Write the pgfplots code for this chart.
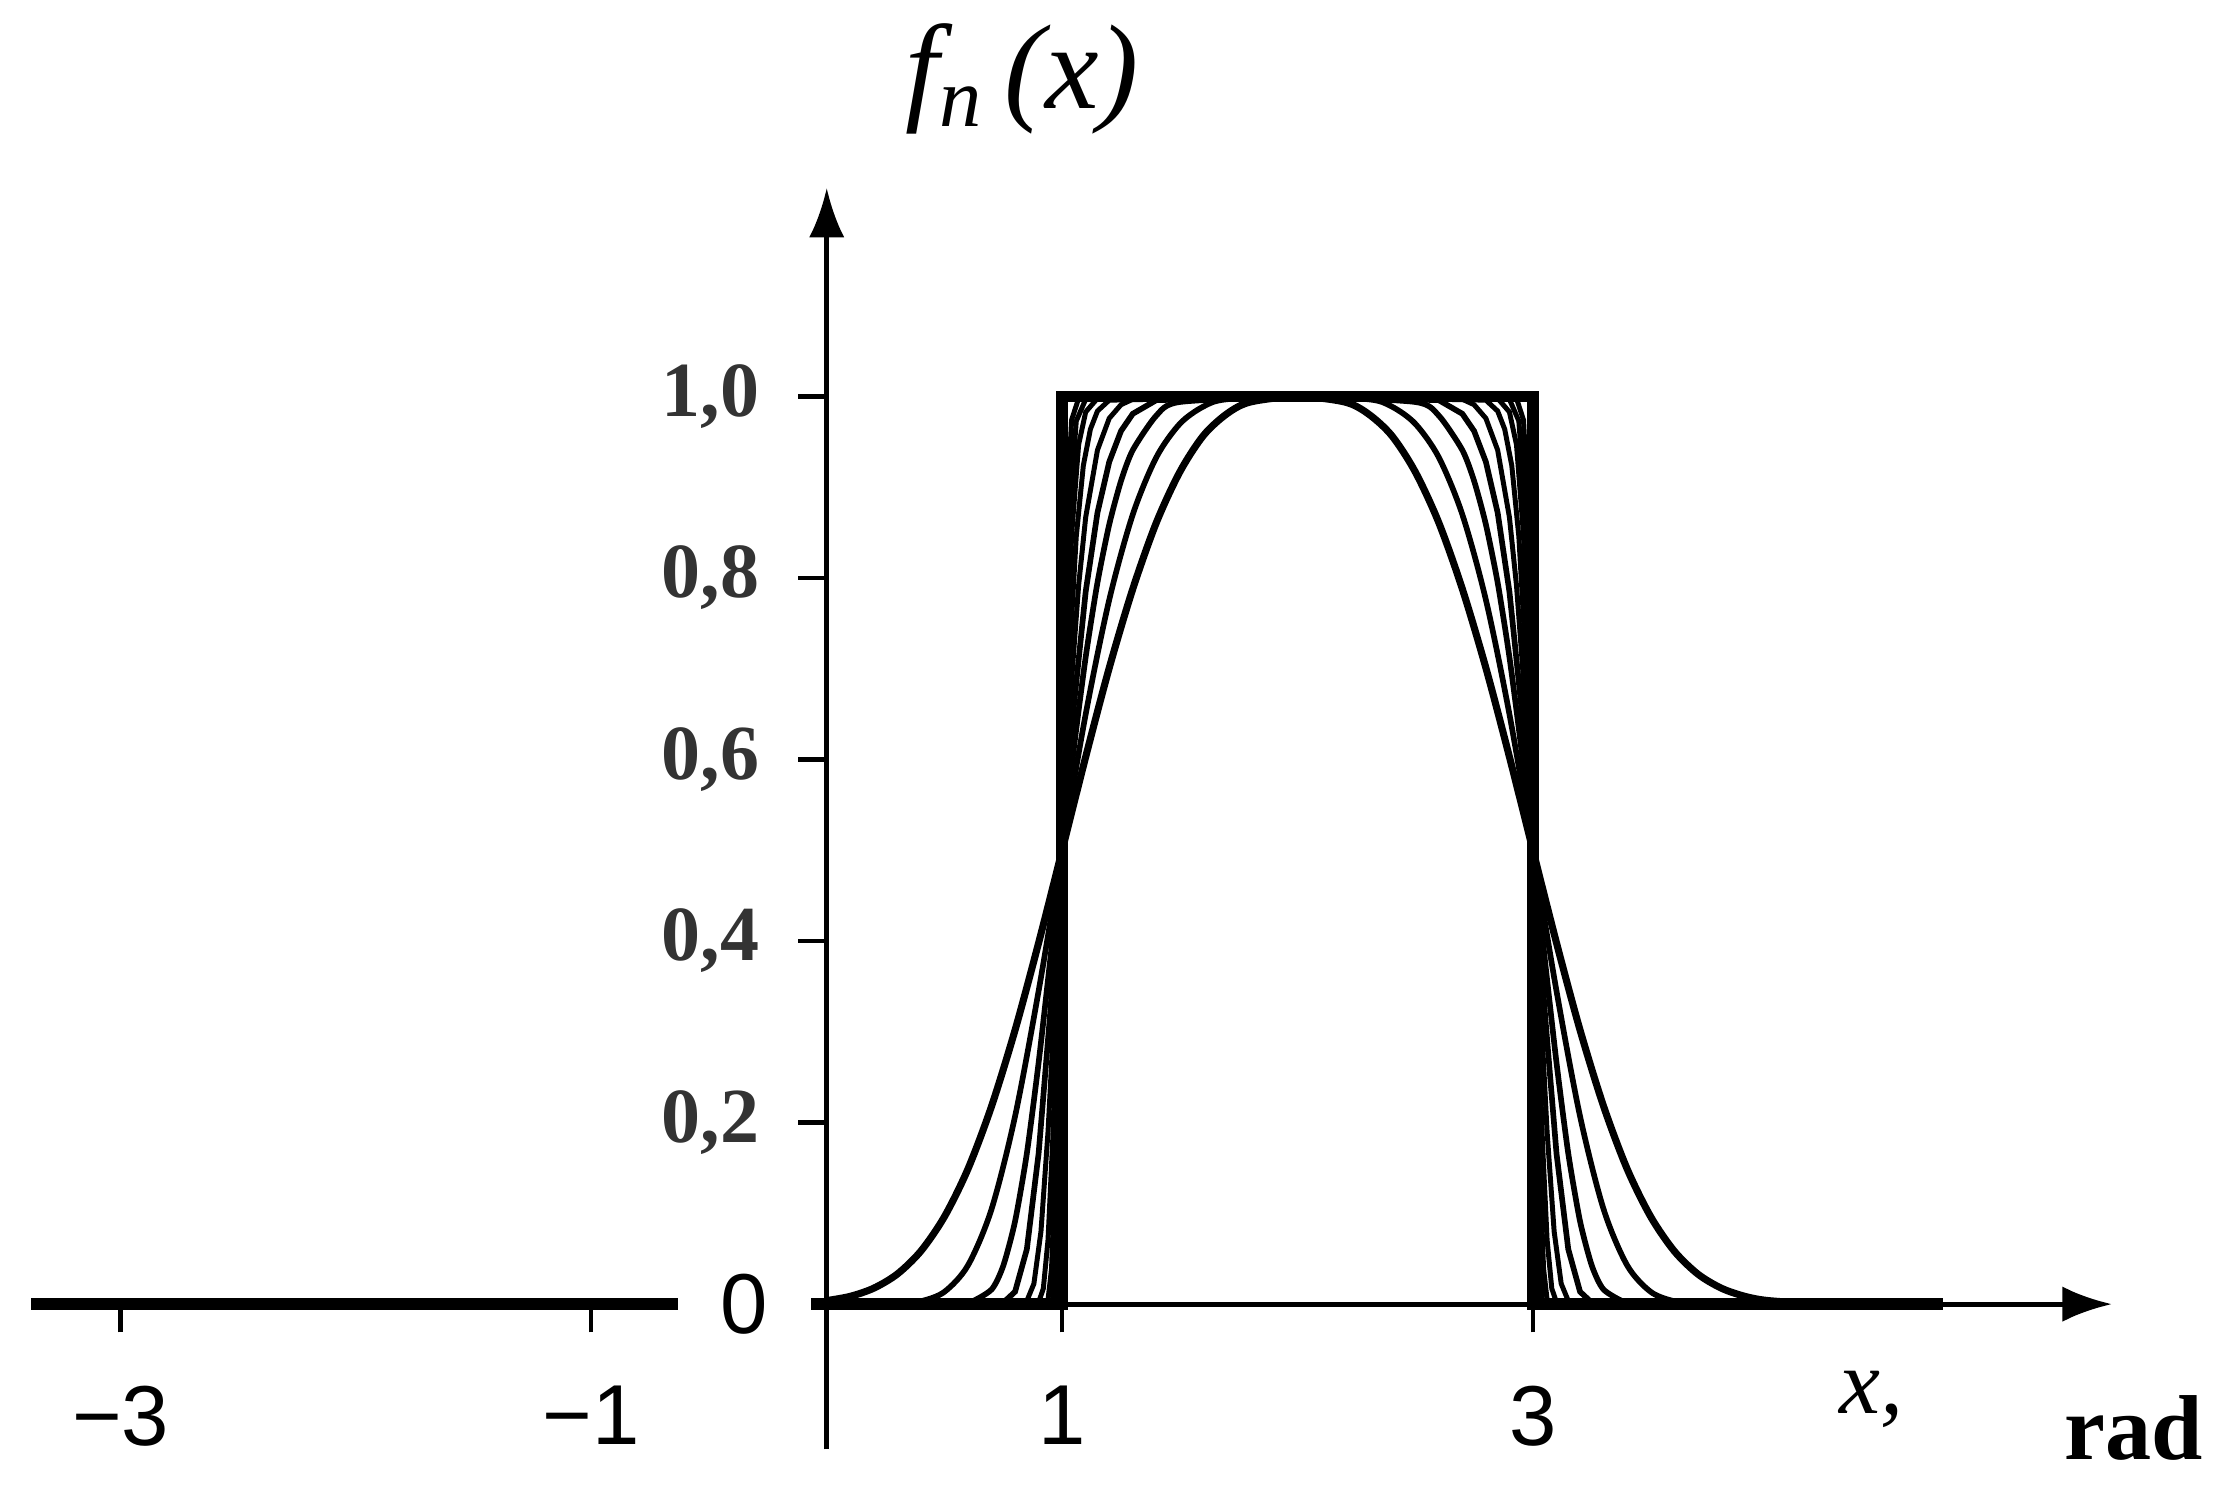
\documentclass[border=0pt]{standalone}
\usepackage{pgfplots}
\pgfplotsset{compat=1.18}
\usetikzlibrary{arrows.meta}
\usepackage{fontspec}
\setmainfont{Liberation Serif}
\newfontfamily\arial{Liberation Sans}

\begin{document}
\begin{tikzpicture}
\begin{axis}[
  x=33.2pt, y=128pt,
  axis lines=middle,
  xmin=-3.38, xmax=5.46, ymin=-0.16, ymax=1.23,
  axis line style={line width=0.7pt, -{Latex[length=7pt,width=5pt]}},
  xtick={-3,-1,1,3},
  xticklabels={−3,−1,1,3},
  ytick={0.2,0.4,0.6,0.8,1.0},
  yticklabels={{0,2},{0,4},{0,6},{0,8},{1,0}},
  tick align=outside,
  major tick length=4pt,
  tick style={line width=0.6pt, black},
  xticklabel style={font=\arial\fontsize{12}{14}\selectfont, anchor=north, yshift=-4pt},
  yticklabel style={font=\bfseries\fontsize{11}{13}\selectfont, text=black!80, xshift=-2pt},
  clip=false,
]
% negative half: f = 0
\addplot[line width=1.6pt] coordinates {(-3.38,0) (-0.63,0)};
% limit: indicator of [1,3]
\addplot[line width=1.6pt] coordinates {(-0.07,0)(1,0)(1,1)(3,1)(3,0)(4.74,0)};
% p = 3
\addplot[line width=1pt, smooth, tension=0.5] coordinates {
(0,0.0039)(0.1,0.0086)(0.2,0.0176)(0.3,0.0332)(0.4,0.0585)(0.5,0.0964)(0.6,0.149)(0.7,0.218)(0.8,0.302)(0.9,0.398)
(1.0,0.5)(1.1,0.603)(1.2,0.701)(1.3,0.788)(1.4,0.861)(1.5,0.917)(1.6,0.957)(1.7,0.981)(1.8,0.994)(2.0,1)
(2.2,0.994)(2.3,0.981)(2.4,0.957)(2.5,0.917)(2.6,0.861)(2.7,0.788)(2.8,0.701)(2.9,0.603)(3.0,0.5)
(3.1,0.398)(3.2,0.302)(3.3,0.218)(3.4,0.149)(3.5,0.0964)(3.6,0.0585)(3.7,0.0332)(3.8,0.0176)(3.9,0.0086)(4.0,0.0039)(4.2,0.0006)(4.4,0)(4.74,0)};
% p = 4.5
\addplot[line width=0.8pt, smooth, tension=0.5] coordinates {
(0,0)(0.2,0)(0.3,0.0005)(0.4,0.0032)(0.5,0.0136)(0.6,0.0428)(0.7,0.1046)(0.8,0.207)(0.9,0.345)(1.0,0.5)
(1.1,0.650)(1.2,0.776)(1.3,0.870)(1.4,0.933)(1.5,0.970)(1.6,0.989)(1.7,0.997)(2.0,1)(2.3,0.997)(2.4,0.989)(2.5,0.970)
(2.6,0.933)(2.7,0.870)(2.8,0.776)(2.9,0.650)(3.0,0.5)(3.1,0.345)(3.2,0.207)(3.3,0.1046)(3.4,0.0428)
(3.5,0.0136)(3.6,0.0032)(3.7,0.0005)(3.8,0)(4.74,0)};
% p = 6.8
\addplot[line width=0.8pt, smooth, tension=0.4] coordinates {
(0,0)(0.5,0)(0.6,0.0011)(0.7,0.0161)(0.75,0.0424)(0.8,0.0913)(0.85,0.166)(0.9,0.266)(0.95,0.381)(1.0,0.5)
(1.05,0.613)(1.1,0.713)(1.15,0.795)(1.2,0.859)(1.25,0.907)(1.3,0.941)(1.4,0.979)(1.5,0.994)(2.0,1)
(2.5,0.994)(2.6,0.979)(2.7,0.941)(2.75,0.907)(2.8,0.859)(2.85,0.795)(2.9,0.713)(2.95,0.613)(3.0,0.5)
(3.05,0.381)(3.1,0.266)(3.15,0.166)(3.2,0.0913)(3.25,0.0424)(3.3,0.0161)(3.4,0.0011)(3.5,0)(4.74,0)};
% p = 10
\addplot[line width=0.8pt] coordinates {
(0,0)(0.7,0)(0.75,0.0016)(0.8,0.0137)(0.85,0.0605)(0.9,0.166)(0.95,0.323)(1.0,0.5)(1.05,0.660)(1.1,0.785)
(1.15,0.872)(1.2,0.928)(1.25,0.962)(1.3,0.981)(1.4,0.996)(2.0,1)(2.6,0.996)(2.7,0.981)(2.75,0.962)(2.8,0.928)
(2.85,0.872)(2.9,0.785)(2.95,0.660)(3.0,0.5)(3.05,0.323)(3.1,0.166)(3.15,0.0605)(3.2,0.0137)(3.25,0.0016)(3.3,0)(4.74,0)};
% p = 15
\addplot[line width=0.7pt] coordinates {
(0,0)(0.8,0)(0.85,0.0036)(0.88,0.0225)(0.91,0.080)(0.94,0.190)(0.97,0.340)(1.0,0.5)(1.04,0.687)(1.07,0.792)
(1.1,0.867)(1.15,0.941)(1.2,0.976)(1.25,0.991)(1.3,0.997)(2.0,1)(2.7,0.997)(2.75,0.991)(2.8,0.976)(2.85,0.941)
(2.9,0.867)(2.93,0.792)(2.96,0.687)(3.0,0.5)(3.03,0.340)(3.06,0.190)(3.09,0.080)(3.12,0.0225)(3.15,0.0036)(3.2,0)(4.74,0)};
% p = 23
\addplot[line width=0.7pt] coordinates {
(0,0)(0.87,0)(0.9,0.002)(0.92,0.0171)(0.94,0.0709)(0.96,0.181)(0.98,0.335)(1.0,0.5)(1.03,0.709)(1.06,0.846)
(1.09,0.924)(1.12,0.964)(1.15,0.984)(1.2,0.996)(2.0,1)(2.8,0.996)(2.85,0.984)(2.88,0.964)(2.91,0.924)(2.94,0.846)
(2.97,0.709)(3.0,0.5)(3.02,0.335)(3.04,0.181)(3.06,0.0709)(3.08,0.0171)(3.1,0.002)(3.13,0)(4.74,0)};
% p = 35
\addplot[line width=0.7pt] coordinates {
(0,0)(0.92,0)(0.94,0.0049)(0.955,0.0393)(0.97,0.142)(0.985,0.311)(1.0,0.5)(1.02,0.711)(1.04,0.847)(1.07,0.947)
(1.1,0.983)(1.15,0.998)(2.0,1)(2.85,0.998)(2.9,0.983)(2.93,0.947)(2.96,0.847)(2.98,0.711)(3.0,0.5)
(3.015,0.311)(3.03,0.142)(3.045,0.0393)(3.06,0.0049)(3.08,0)(4.74,0)};
% p = 52
\addplot[line width=0.7pt] coordinates {
(0,0)(0.94,0)(0.96,0.0049)(0.97,0.0398)(0.98,0.1436)(0.99,0.313)(1.0,0.5)(1.015,0.729)(1.03,0.867)(1.06,0.973)
(1.1,0.997)(2.0,1)(2.9,0.997)(2.94,0.973)(2.97,0.867)(2.985,0.729)(3.0,0.5)(3.01,0.313)(3.02,0.1436)
(3.03,0.0398)(3.04,0.0049)(3.06,0)(4.74,0)};
% p = 80
\addplot[line width=0.7pt] coordinates {
(0,0)(0.97,0)(0.979,0.0259)(0.986,0.1216)(0.993,0.298)(1.0,0.5)(1.01,0.733)(1.02,0.871)(1.04,0.974)(1.07,0.998)
(2.0,1)(2.93,0.998)(2.96,0.974)(2.98,0.871)(2.99,0.733)(3.0,0.5)(3.007,0.298)(3.014,0.1216)(3.021,0.0259)(3.03,0)(4.74,0)};

\node[fill=white, inner sep=0pt, minimum width=18.8pt, minimum height=11pt,
      font=\arial\fontsize{12}{14}\selectfont] at (axis cs:-0.35,0) {0};
\node[font=\fontsize{17}{19}\selectfont\itshape] at (axis cs:0.83,1.35) {f\textsubscript{n}\,(x)};
\node[font=\fontsize{13}{15}\selectfont\itshape] at (axis cs:4.44,-0.105) {x,};
\node[font=\fontsize{13}{15}\selectfont\bfseries] at (axis cs:5.55,-0.136) {rad};
\path (axis cs:-3.512,1.434) rectangle (axis cs:5.934,-0.206);
\end{axis}
\end{tikzpicture}
\end{document}
